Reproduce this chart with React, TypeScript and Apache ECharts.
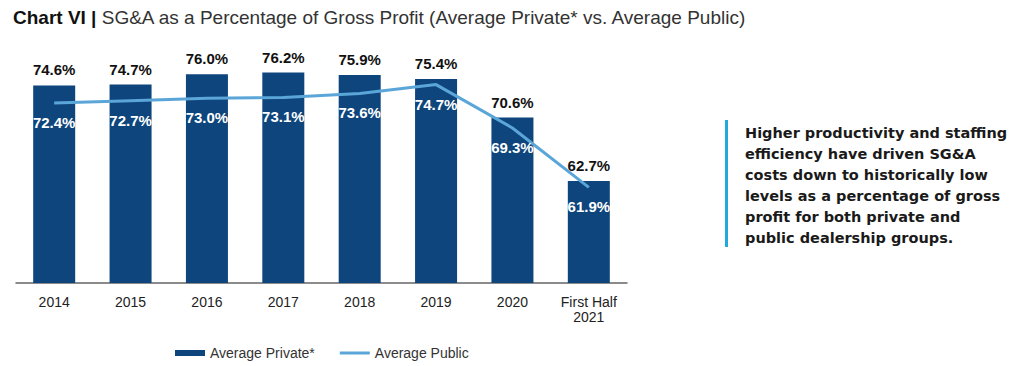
import React, { useEffect, useRef } from "react";
import * as echarts from "echarts";

const categories = ["2014", "2015", "2016", "2017", "2018", "2019", "2020", "First Half\n2021"];
const privateValues = [74.6, 74.7, 76.0, 76.2, 75.9, 75.4, 70.6, 62.7];
const publicValues = [72.4, 72.7, 73.0, 73.1, 73.6, 74.7, 69.3, 61.9];
const seriesNames = ["Average Private*", "Average Public"];
const titleBold = "Chart VI |";
const titleRest = " SG&A as a Percentage of Gross Profit (Average Private* vs. Average Public)";
const noteLines = [
  "Higher productivity and staffing",
  "efficiency have driven SG&A",
  "costs down to historically low",
  "levels as a percentage of gross",
  "profit for both private and",
  "public dealership groups.",
];

const NAVY = "#0d457c";
const LIGHT = "#5ba6d8";
const FONT = "'Liberation Sans', Arial, Helvetica, sans-serif";

export default function App() {
  const ref = useRef<HTMLDivElement>(null);
  useEffect(() => {
    if (!ref.current) return;
    const chart = echarts.init(ref.current, null, { renderer: "svg" });
    chart.setOption({
      animation: false,
      backgroundColor: "#ffffff",
      textStyle: { fontFamily: FONT },
      title: {
        left: 8,
        top: 3,
        text: `{b|${titleBold}}{n|${titleRest}}`,
        textStyle: {
          rich: {
            b: { fontSize: 19, fontWeight: "bold", color: "#111111", fontFamily: FONT },
            n: { fontSize: 19, fontWeight: "normal", color: "#333333", fontFamily: FONT },
          },
        },
      },
      grid: { left: 16, right: 397, top: 42, bottom: 83, containLabel: false },
      legend: {
        left: 170,
        top: 341,
        itemWidth: 30,
        itemHeight: 6,
        itemGap: 25,
        symbolKeepAspect: true,
        textStyle: { fontSize: 14, color: "#333333", fontFamily: FONT },
        data: [
          { name: seriesNames[0], icon: "rect" },
          { name: seriesNames[1], icon: "path://M0,0h30v3h-30z" },
        ],
      },
      xAxis: {
        type: "category",
        data: categories,
        axisLine: { show: true, lineStyle: { color: "#666666", width: 1.5 } },
        axisTick: { show: false },
        axisLabel: {
          color: "#222222",
          fontSize: 14,
          fontFamily: "'Liberation Sans Narrow', 'Arial Narrow', Arial, sans-serif",
          lineHeight: 15,
          margin: 11,
          interval: 0,
        },
      },
      yAxis: {
        type: "value",
        min: 50,
        max: 80,
        show: false,
        splitLine: { show: false },
      },
      series: [
        {
          name: seriesNames[0],
          type: "bar",
          data: privateValues,
          barWidth: 42,
          itemStyle: { color: NAVY },
          label: {
            show: true,
            position: "top",
            distance: 8,
            formatter: (p: any) => `${p.value.toFixed(1)}%`,
            fontSize: 15,
            fontWeight: "bold",
            color: "#111111",
            fontFamily: FONT,
          },
          z: 2,
        },
        {
          name: seriesNames[1],
          type: "line",
          data: publicValues,
          symbol: "circle",
          symbolSize: 0,
          showSymbol: true,
          lineStyle: { color: LIGHT, width: 3 },
          itemStyle: { color: LIGHT },
          label: {
            show: true,
            position: "bottom",
            distance: 12,
            formatter: (p: any) => `${p.value.toFixed(1)}%`,
            fontSize: 15,
            fontWeight: "bold",
            color: "#ffffff",
            fontFamily: FONT,
          },
          z: 3,
        },
      ],
      graphic: [
        {
          type: "rect",
          left: 725,
          top: 120,
          shape: { width: 3, height: 127 },
          style: { fill: "#22a7e0" },
        },
        {
          type: "text",
          left: 745,
          top: 122,
          style: {
            text: noteLines.join("\n"),
            fontSize: 14.5,
            fontWeight: "bold",
            lineHeight: 21,
            fill: "#1a1a1a",
            fontFamily: "'DejaVu Sans', sans-serif",
          },
        },
      ],
    });
    return () => chart.dispose();
  }, []);
  return (
    <div
      ref={ref}
      style={{ position: "absolute", left: 0, top: 0, width: 1024, height: 366 }}
    />
  );
}
